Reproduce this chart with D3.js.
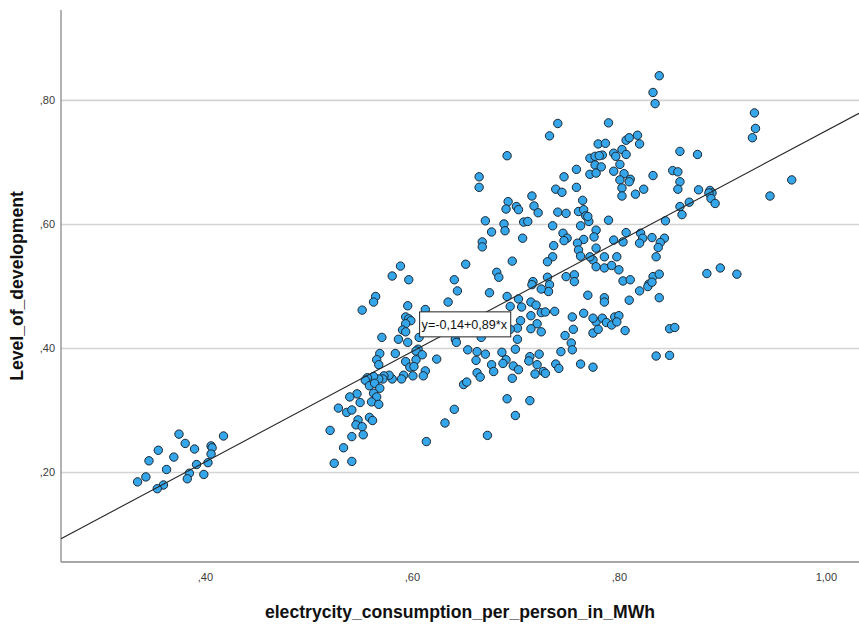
<!DOCTYPE html>
<html>
<head>
<meta charset="utf-8">
<script src="https://cdn.jsdelivr.net/npm/d3@7"></script>
<style>
  html, body { margin: 0; padding: 0; background: #ffffff; }
  svg { display: block; }
</style>
</head>
<body>
<svg id="chart" width="859" height="627"></svg>
<script>
// ---- data ----
const xTitle = "electrycity_consumption_per_person_in_MWh";
const yTitle = "Level_of_development";
const xTicks = [0.4, 0.6, 0.8, 1.0];
const xTickLabels = [",40", ",60", ",80", "1,00"];
const yTicks = [0.2, 0.4, 0.6, 0.8];
const yTickLabels = [",20", ",40", ",60", ",80"];
const xDomain = [0.261, 1.032];
const yDomain = [0.0548, 0.945];
const fitIntercept = -0.14;
const fitSlope = 0.89;
const fitLabel = "y=-0,14+0,89*x";
const fitLabelAt = [0.607, 0.459];

const electricity = [
  0.375,0.381,0.390,0.355,0.346,0.370,0.406,0.407,0.418,0.406,0.403,0.392,0.363,0.385,0.343,0.335,0.399,0.383,0.360,0.354,
  0.589,0.581,0.597,0.652,0.641,0.644,0.565,0.563,0.552,0.635,0.596,0.613,0.594,0.597,0.599,0.594,0.591,0.594,0.587,0.596,
  0.571,0.607,0.642,0.643,0.654,0.606,0.604,0.569,0.584,0.610,0.624,0.566,0.568,0.594,0.604,0.598,0.602,0.613,0.611,0.601,
  0.592,0.590,0.581,0.578,0.573,0.572,0.568,0.563,0.557,0.555,0.559,0.564,0.569,0.563,0.566,0.547,0.540,0.550,0.561,0.568,
  0.529,0.537,0.542,0.548,0.546,0.559,0.562,0.552,0.553,0.542,0.521,0.534,0.525,0.542,0.650,0.653,0.641,0.632,0.614,
  0.692,0.665,0.665,0.716,0.693,0.691,0.701,0.703,0.718,0.722,0.739,0.745,0.747,0.759,0.759,0.772,0.777,0.777,0.772,0.778,
  0.765,0.761,0.766,0.768,0.771,0.770,0.741,0.749,0.671,0.689,0.690,0.708,0.712,0.736,0.763,0.677,0.746,0.750,0.747,0.707,
  0.766,0.760,0.761,0.763,0.778,0.668,0.668,0.737,0.736,0.731,0.697,0.775,0.778,0.778,0.682,0.684,0.749,0.757,0.757,0.731,
  0.733,0.732,0.717,0.716,0.725,0.675,0.770,0.692,0.703,0.715,0.720,0.695,0.706,
  0.725,0.729,0.738,0.715,0.705,0.755,0.766,0.721,0.725,0.715,0.702,0.695,0.756,0.748,0.775,0.778,0.780,0.702,0.667,0.754,
  0.755,0.700,0.663,0.671,0.687,0.744,0.662,0.691,0.688,0.714,0.713,0.723,0.721,0.698,0.677,0.679,0.703,0.739,0.742,0.763,
  0.775,0.727,0.729,0.719,0.663,0.666,0.697,0.692,0.714,0.700,0.673,
  0.835,0.790,0.818,0.820,0.807,0.810,0.780,0.787,0.803,0.807,0.795,0.797,0.784,0.783,0.801,0.795,0.805,0.801,0.803,0.803,
  0.811,0.810,0.824,0.816,0.833,0.859,0.876,0.852,0.857,0.859,0.857,0.877,0.888,0.890,0.887,0.889,0.893,0.868,0.859,0.861,
  0.845,0.790,0.807,0.804,0.795,0.821,0.823,0.820,0.832,0.844,0.840,0.838,0.772,0.786,0.798,0.836,0.776,0.781,
  0.839,0.833,0.741,0.733,0.931,0.932,0.929,0.967,0.946,
  0.786,0.793,0.800,0.804,0.811,0.820,0.829,0.833,0.839,0.828,0.832,0.839,0.810,0.786,0.786,0.885,0.898,0.914,
  0.775,0.784,0.788,0.793,0.796,0.800,0.798,0.806,0.849,0.854,0.836,0.849
];
const development = [
  0.261,0.246,0.237,0.235,0.218,0.224,0.242,0.239,0.258,0.229,0.215,0.212,0.204,0.198,0.192,0.184,0.196,0.189,0.179,0.173,
  0.532,0.516,0.510,0.535,0.510,0.492,0.483,0.474,0.461,0.474,0.468,0.462,0.450,0.447,0.444,0.439,0.429,0.426,0.414,0.409,
  0.417,0.417,0.414,0.409,0.397,0.398,0.395,0.391,0.391,0.389,0.382,0.381,0.373,0.378,0.381,0.369,0.370,0.363,0.355,0.355,
  0.356,0.350,0.350,0.356,0.355,0.350,0.350,0.354,0.352,0.348,0.339,0.343,0.335,0.327,0.321,0.326,0.321,0.312,0.313,0.309,
  0.303,0.296,0.300,0.284,0.276,0.288,0.283,0.273,0.260,0.257,0.267,0.239,0.214,0.217,0.341,0.345,0.301,0.279,0.249,
  0.710,0.676,0.659,0.645,0.636,0.624,0.628,0.623,0.629,0.618,0.656,0.651,0.676,0.688,0.659,0.706,0.709,0.695,0.680,0.682,
  0.638,0.620,0.623,0.613,0.604,0.612,0.619,0.617,0.605,0.600,0.589,0.603,0.604,0.597,0.597,0.587,0.585,0.577,0.573,0.577,
  0.575,0.569,0.558,0.548,0.590,0.571,0.563,0.565,0.547,0.539,0.540,0.542,0.531,0.561,0.522,0.514,0.515,0.518,0.507,0.514,
  0.502,0.491,0.507,0.502,0.495,0.489,0.485,0.483,0.479,0.474,0.469,0.467,0.466,
  0.457,0.458,0.459,0.452,0.444,0.450,0.456,0.439,0.426,0.431,0.432,0.430,0.430,0.420,0.424,0.442,0.430,0.414,0.417,0.408,
  0.397,0.398,0.394,0.390,0.393,0.394,0.380,0.381,0.375,0.386,0.379,0.390,0.373,0.371,0.373,0.362,0.365,0.374,0.367,0.374,
  0.369,0.362,0.359,0.358,0.360,0.353,0.351,0.318,0.315,0.291,0.259,
  0.794,0.763,0.743,0.729,0.735,0.739,0.729,0.730,0.720,0.712,0.714,0.709,0.711,0.692,0.696,0.685,0.681,0.671,0.658,0.645,
  0.672,0.668,0.656,0.648,0.678,0.717,0.712,0.686,0.684,0.668,0.656,0.655,0.654,0.650,0.650,0.641,0.633,0.635,0.628,0.615,
  0.605,0.606,0.586,0.571,0.574,0.585,0.577,0.569,0.578,0.577,0.570,0.562,0.547,0.547,0.547,0.547,0.579,0.710,
  0.839,0.812,0.762,0.742,0.779,0.754,0.739,0.671,0.645,
  0.529,0.533,0.526,0.508,0.510,0.492,0.503,0.515,0.519,0.499,0.506,0.481,0.477,0.481,0.474,0.520,0.529,0.519,
  0.448,0.448,0.441,0.437,0.450,0.452,0.442,0.428,0.431,0.433,0.387,0.388
];

// ---- drawing ----
const W = 859, H = 627;
const plot = { left: 61, right: 859, top: 10, bottom: 562 };
const svg = d3.select("#chart");
const x = d3.scaleLinear().domain(xDomain).range([plot.left, plot.right]);
const y = d3.scaleLinear().domain(yDomain).range([plot.bottom, plot.top]);

svg.append("rect").attr("width", W).attr("height", H).attr("fill", "#ffffff");

// grid lines
svg.append("g")
  .attr("transform", `translate(${plot.left},0)`)
  .call(d3.axisLeft(y).tickValues(yTicks).tickSize(-(plot.right - plot.left)).tickFormat(""))
  .call(g => g.select(".domain").remove())
  .call(g => g.selectAll("line").attr("stroke", "#d4d4d4").attr("stroke-width", 1.6));

// axes
const yAxis = svg.append("g")
  .attr("transform", `translate(${plot.left},0)`)
  .call(d3.axisLeft(y).tickValues(yTicks).tickSize(0).tickPadding(6)
        .tickFormat((d, i) => yTickLabels[i]));
const xAxis = svg.append("g")
  .attr("transform", `translate(0,${plot.bottom})`)
  .call(d3.axisBottom(x).tickValues(xTicks).tickSize(0).tickPadding(11)
        .tickFormat((d, i) => xTickLabels[i]));
[yAxis, xAxis].forEach(g => {
  g.select(".domain").attr("stroke", "#8a8a8a").attr("stroke-width", 1.3);
  g.selectAll("text").attr("font-family", "'Liberation Sans', Arial, sans-serif")
    .attr("font-size", 11).attr("fill", "#3a3a3a");
});
yAxis.select(".domain").attr("d", `M0,${plot.top}V${plot.bottom}`);
xAxis.select(".domain").attr("d", `M${plot.left},0H${plot.right}`);

// points
const pts = electricity.map((v, i) => ({ e: v, d: development[i] }));
svg.append("g").selectAll("circle").data(pts).join("circle")
  .attr("cx", p => x(p.e)).attr("cy", p => y(p.d)).attr("r", 4.2)
  .attr("fill", "#36a6ea").attr("stroke", "#1b2630").attr("stroke-width", 1);

// fit line
const line = d3.line().x(p => x(p[0])).y(p => y(p[1]));
svg.append("path")
  .datum(xDomain.map(v => [v, fitIntercept + fitSlope * v]))
  .attr("d", line).attr("fill", "none").attr("stroke", "#262626").attr("stroke-width", 1.1);

// fit label
const lg = svg.append("g").attr("transform", `translate(${x(fitLabelAt[0])},${y(fitLabelAt[1])})`);
const lt = lg.append("text").attr("x", 2.5).attr("y", 18)
  .attr("font-family", "'Liberation Sans', Arial, sans-serif").attr("font-size", 12.6)
  .attr("fill", "#111").text(fitLabel);
const bb = lt.node().getBBox();
lg.insert("rect", "text").attr("x", 0.5).attr("y", 0.5)
  .attr("width", bb.width + 5).attr("height", 25)
  .attr("fill", "#ffffff").attr("stroke", "#222").attr("stroke-width", 1);

// titles
svg.append("text").attr("x", (plot.left + plot.right) / 2).attr("y", 618)
  .attr("text-anchor", "middle").attr("font-family", "'Liberation Sans', Arial, sans-serif")
  .attr("font-weight", "bold").attr("font-size", 17.6).attr("fill", "#111").text(xTitle);
svg.append("text").attr("transform", `translate(23,${(plot.top + plot.bottom) / 2}) rotate(-90)`)
  .attr("text-anchor", "middle").attr("font-family", "'Liberation Sans', Arial, sans-serif")
  .attr("font-weight", "bold").attr("font-size", 17.6).attr("fill", "#111").text(yTitle);
</script>
</body>
</html>
